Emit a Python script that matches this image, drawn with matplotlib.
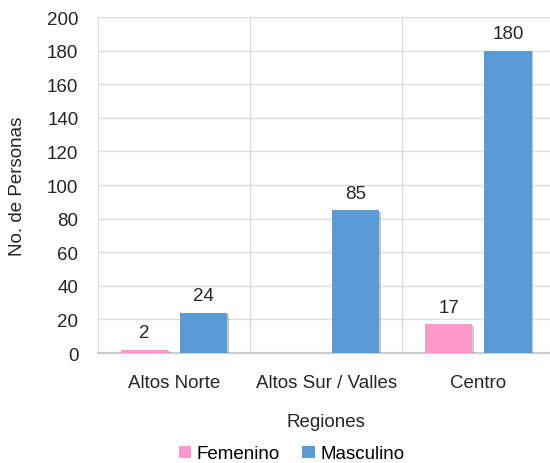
import matplotlib
matplotlib.use("Agg")
import matplotlib.pyplot as plt
import matplotlib.patheffects as pe
import numpy as np

categories = ["Altos Norte", "Altos Sur / Valles", "Centro"]
femenino = [2, np.nan, 17]
masculino = [24, 85, 180]
yticks = [0, 20, 40, 60, 80, 100, 120, 140, 160, 180, 200]

plt.rcParams['font.family'] = ['Liberation Sans', 'DejaVu Sans']
FS = 13.5
TC = "#262626"

fig = plt.figure(figsize=(5.5, 4.64), dpi=100)
ax = fig.add_axes([0.178, 0.237, 0.83, 0.724])

x = np.arange(len(categories))
w = 0.31
off = 0.195
pink = "#FF99CC"
blue = "#5B9BD5"
shadow = [pe.SimplePatchShadow(offset=(1.2, -1.2), alpha=0.25), pe.Normal()]

b1 = ax.bar(x - off, np.nan_to_num(femenino), w, color=pink, label="Femenino", zorder=3)
b2 = ax.bar(x + off, masculino, w, color=blue, label="Masculino", zorder=3)
for b in list(b1) + list(b2):
    b.set_path_effects(shadow)

for xi, v in zip(x, femenino):
    if not np.isnan(v):
        ax.text(xi - off, v + 5, f"{v:g}", ha="center", va="bottom", fontsize=FS, color=TC)
for xi, v in zip(x, masculino):
    ax.text(xi + off, v + 5, f"{v:g}", ha="center", va="bottom", fontsize=FS, color=TC)

ax.set_xlim(-0.5, 2.5)
ax.set_ylim(0, 200)
ax.set_yticks(yticks)
ax.set_xticks(x)
ax.set_xticklabels(categories)
ax.tick_params(axis='both', length=0, labelsize=FS, colors=TC)
ax.tick_params(axis='y', pad=14)
ax.tick_params(axis='x', pad=15)

ax.grid(axis='y', color="#dddddd", linewidth=1, zorder=0)
for sep in [0.5, 1.5]:
    ax.axvline(sep, color="#dddddd", linewidth=1, zorder=0)
for s in ["top", "right"]:
    ax.spines[s].set_visible(False)
ax.spines["left"].set_color("#dddddd")
ax.spines["bottom"].set_color("#cccccc")
ax.spines["bottom"].set_linewidth(1.5)

ax.set_xlabel("Regiones", fontsize=FS, color=TC, labelpad=16)
ax.set_ylabel("No. de Personas", fontsize=FS, color=TC, labelpad=15)

leg = fig.legend(handles=[b1, b2], labels=["Femenino", "Masculino"], loc="lower center",
                 bbox_to_anchor=(0.53, -0.035), ncol=2, frameon=False, fontsize=FS,
                 handlelength=0.65, handleheight=0.65, handletextpad=0.3, columnspacing=1.2)
for h in leg.legend_handles:
    h.set_path_effects([])

fig.savefig("out.png", dpi=100)
